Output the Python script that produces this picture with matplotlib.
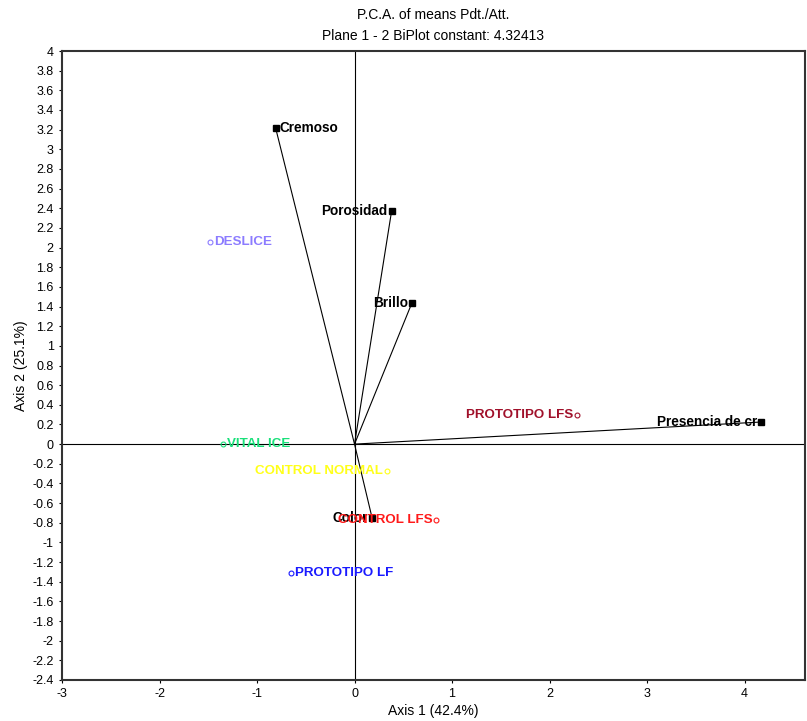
import numpy as np
import matplotlib
matplotlib.use("Agg")
import matplotlib.pyplot as plt

plt.rcParams['font.family'] = ['Liberation Sans', 'DejaVu Sans']
plt.rcParams['axes.unicode_minus'] = False

# attributes (vectors from origin)
att_names = ['Cremoso', 'Porosidad', 'Brillo', 'Presencia de cr', 'Color']
att_x = [-0.81, 0.38, 0.59, 4.17, 0.18]
att_y = [3.22, 2.37, 1.44, 0.225, -0.75]
att_side = ['right', 'left', 'left', 'left', 'left']

# products
prod_names = ['DESLICE', 'VITAL ICE', 'CONTROL NORMAL', 'CONTROL LFS',
              'PROTOTIPO LF', 'PROTOTIPO LFS']
prod_x = [-1.48, -1.35, 0.33, 0.84, -0.65, 2.28]
prod_y = [2.06, 0.0, -0.27, -0.77, -1.31, 0.30]
prod_side = ['right', 'right', 'left', 'left', 'right', 'left']
prod_colors = ['#8c7cff', '#19e07a', '#ffff1a', '#ff1a1a', '#1a1aff', '#a0102a']

fig = plt.figure(figsize=(8.07, 7.21), dpi=100)
ax = fig.add_axes([62/807, 1 - 680/721, (805-62)/807, (680-51)/721])

ax.axhline(0, color='black', lw=0.8)
ax.axvline(0, color='black', lw=0.8)

for n, x, y, s in zip(att_names, att_x, att_y, att_side):
    ax.plot([0, x], [0, y], color='black', lw=0.8)
    ax.plot(x, y, 's', color='black', ms=4)
    if s == 'right':
        ax.text(x + 0.04, y, n, ha='left', va='center', fontsize=9.8, fontweight='bold')
    else:
        ax.text(x - 0.04, y, n, ha='right', va='center', fontsize=9.8, fontweight='bold')

for n, x, y, s, c in zip(prod_names, prod_x, prod_y, prod_side, prod_colors):
    ax.plot(x, y, 'o', mfc='none', mec=c, ms=3.5, mew=0.8)
    if s == 'right':
        ax.text(x + 0.04, y, n, ha='left', va='center', fontsize=9.6,
                fontweight='bold', color=c)
    else:
        ax.text(x - 0.04, y, n, ha='right', va='center', fontsize=9.6,
                fontweight='bold', color=c)

ax.set_xlim(-3, 4.62)
ax.set_ylim(-2.4, 4)
ax.set_xticks(np.arange(-3, 5, 1))
ax.set_yticks(np.arange(-2.4, 4.01, 0.2))
ax.set_yticklabels(['%g' % round(v, 1) for v in np.arange(-2.4, 4.01, 0.2)])
ax.tick_params(labelsize=9, length=2, width=0.8, pad=4)
for sp in ax.spines.values():
    sp.set_linewidth(1.5)
    sp.set_color('#333333')

ax.set_xlabel('Axis 1 (42.4%)', fontsize=10, labelpad=3)
ax.set_ylabel('Axis 2 (25.1%)', fontsize=10, labelpad=3)
ax.set_title('P.C.A. of means Pdt./Att.\nPlane 1 - 2 BiPlot constant: 4.32413',
             fontsize=10, pad=8, linespacing=1.6)

fig.savefig('out.png', dpi=100)
